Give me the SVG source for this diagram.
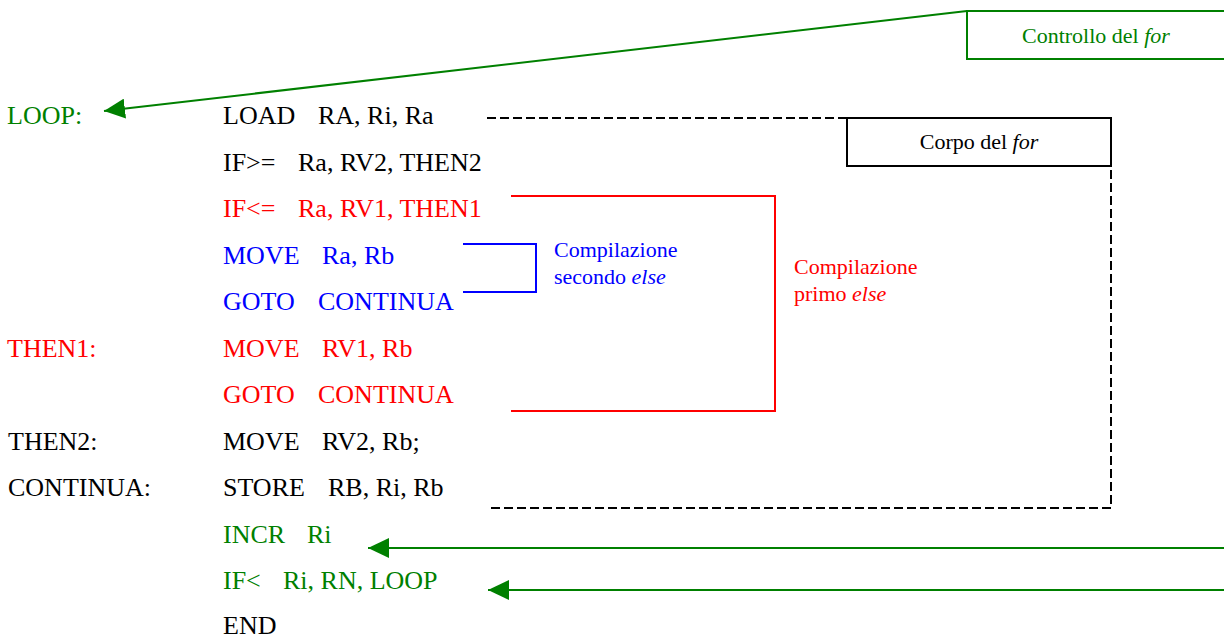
<svg xmlns="http://www.w3.org/2000/svg" width="1224" height="639" viewBox="0 0 1224 639" font-family="'Liberation Serif', 'Times New Roman', 'DejaVu Serif', serif">
<style>
text{font-family:'Liberation Serif','Times New Roman','DejaVu Serif',serif}
.code{font-size:26px}
.lbl{font-size:22px}
.k{fill:#000}
.g{fill:#008000}
.r{fill:#FF0000}
.b{fill:#0000FF}
.gl{stroke:#008000;stroke-width:2;fill:none}
.dash{stroke:#000;stroke-width:2;fill:none;stroke-dasharray:9 4}
</style>
<defs>
<marker id="ah" viewBox="0 0 21 20" refX="21" refY="10" markerWidth="21" markerHeight="20" markerUnits="userSpaceOnUse" orient="auto">
<path d="M0,0 L21,10 L0,20 Z" fill="#008000"/>
</marker>
</defs>
<rect width="1224" height="639" fill="#fff"/>

<g id="code">
<g id="row-loop" class="code"><text x="7" y="124" class="g">LOOP:</text><text x="223" y="124" class="k">LOAD</text><text x="318" y="124" class="k">RA, Ri, Ra</text></g>
<g id="row-ifge" class="code"><text x="223" y="170.5" class="k">IF&gt;=</text><text x="298" y="170.5" class="k">Ra, RV2, THEN2</text></g>
<g id="row-ifle" class="code"><text x="223" y="217" class="r">IF&lt;=</text><text x="298" y="217" class="r">Ra, RV1, THEN1</text></g>
<g id="row-move1" class="code"><text x="223" y="263.5" class="b">MOVE</text><text x="322" y="263.5" class="b">Ra, Rb</text></g>
<g id="row-goto1" class="code"><text x="223" y="310" class="b">GOTO</text><text x="318" y="310" class="b">CONTINUA</text></g>
<g id="row-then1" class="code"><text x="7" y="356.5" class="r">THEN1:</text><text x="223" y="356.5" class="r">MOVE</text><text x="322" y="356.5" class="r">RV1, Rb</text></g>
<g id="row-goto2" class="code"><text x="223" y="403" class="r">GOTO</text><text x="318" y="403" class="r">CONTINUA</text></g>
<g id="row-then2" class="code"><text x="8" y="449.5" class="k">THEN2:</text><text x="223" y="449.5" class="k">MOVE</text><text x="322" y="449.5" class="k">RV2, Rb;</text></g>
<g id="row-continua" class="code"><text x="8" y="496" class="k">CONTINUA:</text><text x="223" y="496" class="k">STORE</text><text x="328" y="496" class="k">RB, Ri, Rb</text></g>
<g id="row-incr" class="code"><text x="223" y="542.5" class="g">INCR</text><text x="307" y="542.5" class="g">Ri</text></g>
<g id="row-iflt" class="code"><text x="223" y="589" class="g">IF&lt;</text><text x="283" y="589" class="g">Ri, RN, LOOP</text></g>
<g id="row-end" class="code"><text x="223" y="634" class="k">END</text></g>
</g>

<g id="controllo">
<path d="M1226,11 H967 V59 H1226" fill="#fff" stroke="#008000" stroke-width="2"/>
<text x="1022" y="43" class="lbl g">Controllo del <tspan font-style="italic">for</tspan></text>
</g>

<g id="corpo">
<path class="dash" d="M487,118 H1111 V508 H487"/>
<rect x="847" y="118" width="264" height="48" fill="#fff" stroke="#000" stroke-width="2"/>
<text x="979" y="149" class="lbl k" text-anchor="middle">Corpo del <tspan font-style="italic">for</tspan></text>
</g>

<g id="primo-else">
<path d="M511,196 H775 V411 H511" fill="none" stroke="#FF0000" stroke-width="2"/>
<text x="794" y="274" class="lbl r">Compilazione</text>
<text x="794" y="301" class="lbl r">primo <tspan font-style="italic">else</tspan></text>
</g>

<g id="secondo-else">
<path d="M463,244 H536 V292 H463" fill="none" stroke="#0000FF" stroke-width="2"/>
<text x="554" y="257" class="lbl b">Compilazione</text>
<text x="554" y="284" class="lbl b">secondo <tspan font-style="italic">else</tspan></text>
</g>

<g id="connectors">
<line class="gl" x1="967" y1="11" x2="104" y2="111" marker-end="url(#ah)"/>
<line class="gl" x1="1226" y1="548" x2="368" y2="548" marker-end="url(#ah)"/>
<line class="gl" x1="1226" y1="590" x2="488" y2="590" marker-end="url(#ah)"/>
</g>
</svg>
